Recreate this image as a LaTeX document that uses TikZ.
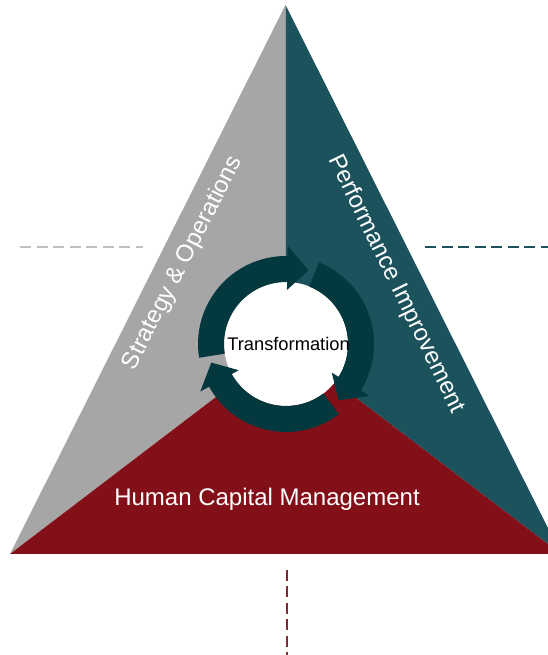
\documentclass[tikz,border=0pt]{standalone}
\usepackage{fontspec}
\setmainfont{Liberation Sans}
\usetikzlibrary{calc}
\definecolor{sgray}{HTML}{A6A6A6}
\definecolor{steal}{HTML}{1B525C}
\definecolor{sred}{HTML}{831019}
\definecolor{sring}{HTML}{04383F}
\definecolor{dgray}{HTML}{BFBFBF}
\definecolor{dred}{HTML}{7F2B35}
\tikzset{
  dline/.style={line width=2.7pt, dash pattern=on 11pt off 5.5pt},
  sidelabel/.style={text=white, font=\fontsize{24}{28}\selectfont, inner sep=0pt},
}
\newcommand{\cyclearrow}[3]{%
  \fill[sring] ($(O)+(#1:88pt)$) arc[start angle=#1, end angle=#2, radius=88pt]
    -- ($(O)+(#2:98pt)$) -- ($(O)+(#3:77pt)$) -- ($(O)+(#2:54pt)$)
    -- ($(O)+(#2:62pt)$) arc[start angle=#2, end angle=#1, radius=62pt] -- cycle;}
\begin{document}
\begin{tikzpicture}[x=1pt,y=1pt]
\useasboundingbox (0,0) rectangle (548,655);
\clip (0,0) rectangle (548,655);
\coordinate (A) at (285.5,650);
\coordinate (BL) at (10,101);
\coordinate (BR) at (561,101);
\coordinate (O) at (286,311);
\coordinate (M) at (285.5,311);
% triangle sectors
\fill[sgray] (A) -- (BL) -- (M) -- cycle;
\fill[steal] (A) -- (M) -- (BR) -- cycle;
\fill[sred] (BL) -- (BR) -- (M) -- cycle;
% dashed lines
\coordinate (gl1) at (20,408); \coordinate (gl2) at (143,408);
\coordinate (tl1) at (425,408); \coordinate (tl2) at (548,408);
\coordinate (rl1) at (287,85); \coordinate (rl2) at (287,0);
\draw[dline, dgray] (gl1) -- (gl2);
\draw[dline, steal] (tl1) -- (tl2);
\draw[dline, dred] (rl1) -- (rl2);
% centre disc and cycle arrows
\fill[white] (O) circle[radius=62pt];
\cyclearrow{189}{89}{73}
\cyclearrow{68}{-32}{-47}
\cyclearrow{-53}{-151}{-166}
% labels
\node[font=\fontsize{18.3}{22}\selectfont, anchor=base, inner sep=0pt] (tr) at (288.5,304) {Transformation};
\node[sidelabel, anchor=base] (hcm) at (267,149) {Human Capital Management};
\node[sidelabel, rotate=63] (so) at (183,392) {Strategy \& Operations};
\node[sidelabel, rotate=-64] (pi) at (396,371) {Performance Improvement};
\end{tikzpicture}
\end{document}
